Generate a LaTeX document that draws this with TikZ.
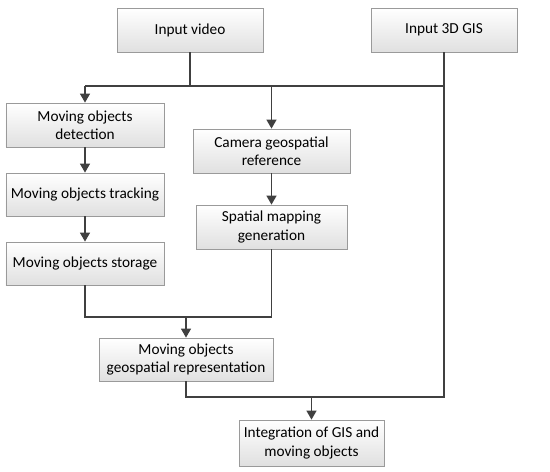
\documentclass[tikz,border=0pt]{standalone}
\usepackage{fontspec}
\setmainfont{Carlito}
\usetikzlibrary{arrows.meta}
\definecolor{ln}{HTML}{404040}
\definecolor{bd}{HTML}{9A9A9A}
\definecolor{fb}{HTML}{E0E0E0}
\begin{document}
\begin{tikzpicture}[x=1bp,y=-1bp,
  box/.style={draw=bd, line width=0.8bp, top color=white, bottom color=fb, align=center,
    inner sep=2bp, font=\fontsize{15.3bp}{18.5bp}\selectfont, text=black},
  conn/.style={draw=ln, line width=1.4bp},
  arr/.style={conn, -{Triangle[length=9bp,width=10bp]}}]
\useasboundingbox (0,0) rectangle (550,472);
\node[box, minimum width=146bp, minimum height=44bp] (video) at (190,30) {Input video};
\node[box, minimum width=146bp, minimum height=44bp] (gis) at (444,30) {Input 3D GIS};
\node[box, minimum width=158bp, minimum height=44bp] (det) at (85,125) {Moving objects\\detection};
\node[box, minimum width=157bp, minimum height=44bp] (cam) at (271.5,151) {Camera geospatial\\reference};
\node[box, minimum width=158bp, minimum height=43bp] (trk) at (85,194.5) {Moving objects tracking};
\node[box, minimum width=158bp, minimum height=43bp] (sto) at (85,263.5) {Moving objects storage};
\node[box, minimum width=151bp, minimum height=44bp] (spa) at (271.5,227) {Spatial mapping\\generation};
\node[box, minimum width=174bp, minimum height=43bp] (rep) at (186,359.5) {Moving objects\\geospatial representation};
\node[box, minimum width=145bp, minimum height=46bp] (int) at (311.5,443) {Integration of GIS and\\moving objects};
\coordinate (jl) at (85,86);
\coordinate (jr) at (444,86);
\coordinate (jm) at (85,317);
\coordinate (jb) at (444,397);
\draw[conn] (video.south) -- (video.south|-jr);
\draw[conn] (jl) -- (jr);
\draw[arr] (jl) -- (det.north);
\draw[arr] (cam.north|-jr) -- (cam.north);
\draw[arr] (det.south) -- (trk.north);
\draw[arr] (trk.south) -- (sto.north);
\draw[arr] (cam.south) -- (spa.north);
\draw[conn] (sto.south) -- (jm) -- (spa.south|-jm) -- (spa.south);
\draw[arr] (rep.north|-jm) -- (rep.north);
\draw[conn] (gis.south) -- (jb) -- (rep.south|-jb) -- (rep.south);
\draw[arr] (int.north|-jb) -- (int.north);
\end{tikzpicture}
\end{document}
